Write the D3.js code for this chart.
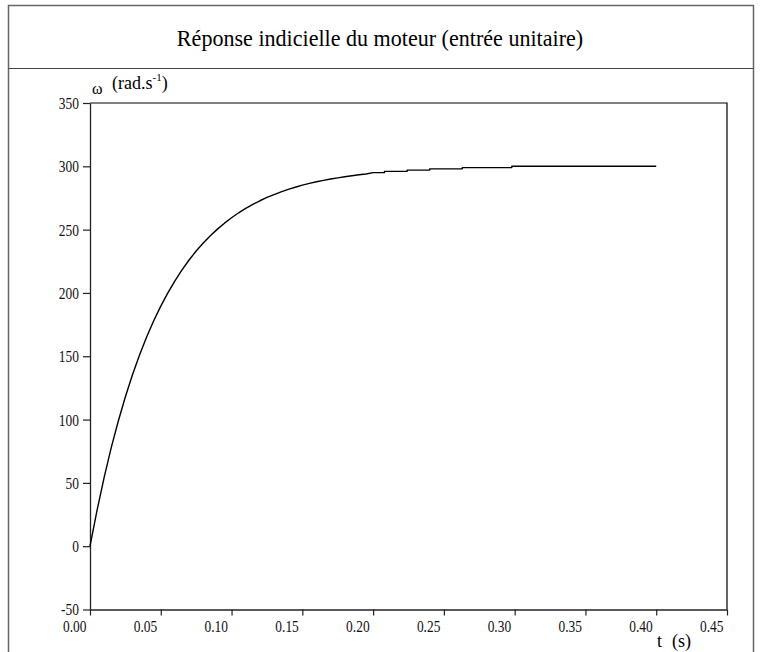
<!DOCTYPE html>
<html>
<head>
<meta charset="utf-8">
<script src="https://cdn.jsdelivr.net/npm/d3@7"></script>
<style>
  html, body { margin: 0; padding: 0; background: #fff; }
  svg { display: block; font-family: "Liberation Serif", "Times New Roman", serif; }
  svg text { font-family: "Liberation Serif", "Times New Roman", serif; }
</style>
</head>
<body>
<svg id="chart" width="760" height="652"></svg>
<script>
// ---- data ----
const titleText = "Réponse indicielle du moteur (entrée unitaire)";
const xTicks = [0.00, 0.05, 0.10, 0.15, 0.20, 0.25, 0.30, 0.35, 0.40, 0.45];
const yTicks = [-50, 0, 50, 100, 150, 200, 250, 300, 350];
const timeS = [
  0.000, 0.005, 0.010, 0.015, 0.020, 0.025, 0.030, 0.035, 0.040, 0.045,
  0.050, 0.055, 0.060, 0.065, 0.070, 0.075, 0.080, 0.085, 0.090, 0.095,
  0.100, 0.105, 0.110, 0.115, 0.120, 0.125, 0.130, 0.135, 0.140, 0.145,
  0.150, 0.155, 0.160, 0.165, 0.170, 0.175, 0.180, 0.185, 0.190, 0.195,
  0.200, 0.208, 0.208, 0.224, 0.224, 0.240, 0.240, 0.263, 0.263, 0.298,
  0.298, 0.400
];
const omega = [
  0.0, 28.5, 54.4, 77.8, 98.9, 118.0, 135.4, 151.0, 165.2, 178.0,
  189.6, 200.1, 209.6, 218.2, 226.0, 233.1, 239.4, 245.2, 250.4, 255.1,
  259.4, 263.3, 266.8, 269.9, 272.8, 275.4, 277.7, 279.8, 281.8, 283.5,
  285.1, 286.5, 287.8, 288.9, 290.0, 290.9, 291.8, 292.6, 293.3, 293.9,
  295.0, 295.0, 296.0, 296.0, 297.0, 297.0, 298.0, 298.0, 299.0, 299.0,
  300.0, 300.0
];

const svg = d3.select("#chart");
const SERIF = '"Liberation Serif", "Times New Roman", serif';

// outer frame + title band
svg.append("rect")
  .attr("x", 8.5).attr("y", 5.5).attr("width", 745).attr("height", 700)
  .attr("fill", "none").attr("stroke", "#666").attr("stroke-width", 1.5);
svg.append("line")
  .attr("x1", 8.5).attr("x2", 753.5).attr("y1", 68.5).attr("y2", 68.5)
  .attr("stroke", "#444").attr("stroke-width", 1.2);
svg.append("text")
  .attr("text-anchor", "middle")
  .attr("transform", "translate(380,46) scale(0.92,1)")
  .attr("font-size", 24)
  .style("font-family", SERIF)
  .attr("fill", "#000")
  .text(titleText);

// scales
const x = d3.scaleLinear().domain([0, 0.45]).range([90, 727]);
const y = d3.scaleLinear().domain([-50, 350]).range([609.5, 103]);

// plot box (top and right)
svg.append("path")
  .attr("d", `M${x(0)},${y(350)}H${x(0.45)}V${y(-50)}`)
  .attr("fill", "none").attr("stroke", "#000").attr("stroke-width", 1.2);

// axes
const yAxis = d3.axisLeft(y).tickValues(yTicks).tickSize(7).tickSizeOuter(0)
  .tickFormat(d => String(d));
const gy = svg.append("g").attr("transform", `translate(${x(0)},0)`).call(yAxis);
const xAxis = d3.axisBottom(x).tickValues(xTicks).tickSize(6).tickSizeOuter(0)
  .tickFormat(d3.format(".2f"));
const gx = svg.append("g").attr("transform", `translate(0,${y(-50)})`).call(xAxis);

[gx, gy].forEach(g => {
  g.attr("font-family", null).style("font-family", SERIF);
  g.select(".domain").attr("stroke", "#222").attr("stroke-width", 1.3);
  g.selectAll(".tick line").attr("stroke", "#222").attr("stroke-width", 1.2);
  g.selectAll(".tick text")
    .style("font-family", SERIF)
    .attr("font-size", 16).attr("fill", "#111");
});
gy.selectAll(".tick text")
  .attr("x", 0).attr("dy", "0.34em").attr("text-anchor", "end")
  .attr("transform", "translate(-11,0) scale(0.84,1)");
gx.selectAll(".tick text")
  .attr("y", 0).attr("dy", 0).attr("text-anchor", "end")
  .attr("transform", "translate(-4,22) scale(0.84,1)");

// axis titles
const yl = svg.append("text").attr("font-size", 18).style("font-family", SERIF).attr("fill", "#000");
yl.append("tspan").attr("x", 92).attr("y", 94).attr("font-size", 16).text("ω");
yl.append("tspan").attr("x", 112).attr("y", 89).text("(rad.s");
yl.append("tspan").attr("dy", -8).attr("font-size", 11).text("-1");
yl.append("tspan").attr("dy", 8).text(")");

const xl = svg.append("text").attr("font-size", 18).style("font-family", SERIF).attr("fill", "#000");
xl.append("tspan").attr("x", 657).attr("y", 647).text("t");
xl.append("tspan").attr("x", 672).attr("y", 647).text("(s)");

// curve
const pts = timeS.map((t, i) => [t, omega[i]]);
const line = d3.line().x(d => x(d[0])).y(d => y(d[1])).curve(d3.curveLinear);
svg.append("path")
  .datum(pts)
  .attr("d", line)
  .attr("fill", "none")
  .attr("stroke", "#000")
  .attr("stroke-width", 1.4)
  .attr("stroke-linejoin", "round");
</script>
</body>
</html>
